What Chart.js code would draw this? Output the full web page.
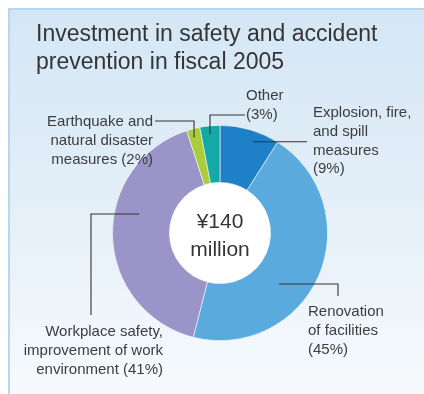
<!DOCTYPE html>
<html>
<head>
<meta charset="utf-8">
<script src="https://cdn.jsdelivr.net/npm/chart.js@4"></script>
<style>
  html, body { margin: 0; padding: 0; width: 424px; height: 394px; overflow: hidden; background: #ffffff; }
  .panel {
    position: absolute; left: 8px; top: 8px; right: -12px; bottom: -12px;
    border-left: 2px solid #b7d6ef; border-top: 2px solid #b7d6ef;
    background: linear-gradient(to bottom, #d4e6f5 0%, #e4eff8 50%, #f8fbfd 100%);
  }
  #chart { position: absolute; left: 0; top: 0; }
</style>
</head>
<body>
<div class="panel"></div>
<canvas id="chart" width="424" height="394"></canvas>
<script>
// spending breakdown, fiscal 2005 (percent of total)
const categories = ['Explosion, fire, and spill measures', 'Renovation of facilities',
                    'Workplace safety, improvement of work environment',
                    'Earthquake and natural disaster measures', 'Other'];
const shares = [9, 45, 41, 2, 3];
const sliceColors = ['#1e80c6', '#5aaadd', '#9a94c8', '#a9cd3b', '#14a9a7'];
const titleLines = ['Investment in safety and accident', 'prevention in fiscal 2005'];
const centerLines = ['¥140', 'million'];

// callout layout: anchor in polar (deg clockwise from top, px from centre),
// leader path as absolute points, text lines ({p} = share)
const callouts = [
    { angle: 19.7, r: 97, path: [[307, null]], x: 313, y: 113, align: 'left',
      lines: ['Explosion, fire,', 'and spill', 'measures', '({p}%)'] },
    { angle: 130.8, r: 78, path: [[338, null], [338, 296]], x: 308, y: 312, align: 'left',
      lines: ['Renovation', 'of facilities', '({p}%)'] },
    { angle: 283.2, r: 83, path: [[91, null], [91, 315]], x: 163, y: 332, align: 'right',
      lines: ['Workplace safety,', 'improvement of work', 'environment ({p}%)'] },
    { angle: 344.8, r: 99, path: [[null, 121], [155, 121]], x: 153, y: 122, align: 'right',
      lines: ['Earthquake and', 'natural disaster', 'measures ({p}%)'] },
    { angle: 354.2, r: 99, path: [[null, 115], [245, 115]], x: 246, y: 96, align: 'left',
      lines: ['Other', '({p}%)'] }
];

const FONT = '"Liberation Sans", Arial, sans-serif';
const TEXT = '#3d3d3d';

const calloutPlugin = {
    id: 'callouts',
    afterDraw(chart) {
        const ctx = chart.ctx;
        const arc = chart.getDatasetMeta(0).data[0];
        const cx = arc.x, cy = arc.y;
        ctx.save();

        // title
        ctx.fillStyle = '#353535';
        ctx.font = '23px ' + FONT;
        ctx.textAlign = 'left';
        ctx.textBaseline = 'middle';
        titleLines.forEach((t, i) => ctx.fillText(t, 36, 35 + i * 28));

        // centre total
        ctx.font = '21px ' + FONT;
        ctx.textAlign = 'center';
        ctx.fillText(centerLines[0], cx, cy - 11);
        ctx.fillText(centerLines[1], cx, cy + 17);

        // leaders + labels
        callouts.forEach((c, i) => {
            const a = c.angle * Math.PI / 180;
            let px = cx + c.r * Math.sin(a);
            let py = cy - c.r * Math.cos(a);
            ctx.strokeStyle = '#333333';
            ctx.lineWidth = 1.1;
            ctx.beginPath();
            ctx.moveTo(px, py);
            c.path.forEach(([x, y]) => {
                px = x === null ? px : x;
                py = y === null ? py : y;
                ctx.lineTo(px, py);
            });
            ctx.stroke();

            ctx.fillStyle = TEXT;
            ctx.font = '15px ' + FONT;
            ctx.textAlign = c.align;
            c.lines.forEach((l, k) => {
                ctx.fillText(l.replace('{p}', shares[i]), c.x, c.y + k * 18.7);
            });
        });
        ctx.restore();
    }
};

const config = {
    type: 'doughnut',
    data: {
        labels: categories,
        datasets: [{
            data: shares,
            backgroundColor: sliceColors,
            borderColor: 'rgba(255,255,255,0.7)',
            borderWidth: 0.8
        }]
    },
    options: {
        responsive: false,
        animation: false,
        cutout: '47%',
        layout: { padding: { left: 112, right: 96, top: 125, bottom: 53 } },
        plugins: {
            legend: { display: false },
            tooltip: { enabled: false }
        }
    },
    plugins: [calloutPlugin, {
        id: 'hole',
        beforeDatasetsDraw(chart) {
            const arc = chart.getDatasetMeta(0).data[0];
            const ctx = chart.ctx;
            ctx.save();
            ctx.fillStyle = '#ffffff';
            ctx.beginPath();
            ctx.arc(arc.x, arc.y, arc.innerRadius, 0, Math.PI * 2);
            ctx.fill();
            ctx.restore();
        }
    }]
};

const canvas = document.getElementById('chart');
const chart = new Chart(canvas, config);
</script>
</body>
</html>
